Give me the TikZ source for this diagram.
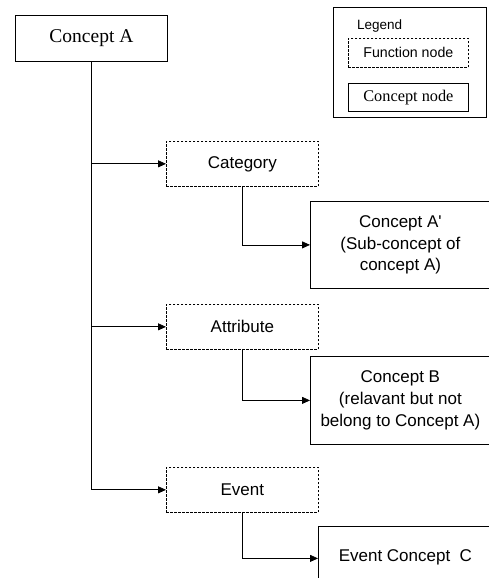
\documentclass[tikz,border=0pt]{standalone}
\usepackage{fontspec}
\setmainfont{Liberation Serif}
\setsansfont{Liberation Sans}[Ligatures=TeXOff]
\usetikzlibrary{arrows.meta}
\begin{document}
\begin{tikzpicture}[x=1pt,y=-1pt,
  concept/.style={draw,line width=0.8pt,rectangle,inner sep=0pt,anchor=north west},
  func/.style={draw,line width=0.7pt,dash pattern=on 2.5pt off 1.5pt,rectangle,inner sep=0pt,anchor=north west,
     minimum width=152pt,minimum height=45pt,font=\sffamily\fontsize{17}{21}\selectfont},
  conn/.style={line width=0.8pt,-{Triangle[length=8pt,width=7pt]}},
  stxt/.style={font=\sffamily\fontsize{17}{21.7}\selectfont,align=center,inner sep=0pt}]
\useasboundingbox (0,0) rectangle (489,578);
\clip (0,0) rectangle (489,578);
\fill[white] (0,0) rectangle (489,578);
% legend
\node[concept,minimum width=153pt,minimum height=110pt] (leg) at (333,7) {};
\node[anchor=west,inner sep=0pt,font=\sffamily\fontsize{13.5}{16}\selectfont] (legt) at (357,26) {Legend};
\node[func,minimum width=120pt,minimum height=29pt,font=\sffamily\fontsize{14.2}{17}\selectfont] (legf) at (348,38) {Function node};
\node[concept,minimum width=120pt,minimum height=28pt,font=\fontsize{16.3}{19}\selectfont] (legc) at (348,83) {Concept node};
% main
\node[concept,minimum width=152pt,minimum height=46pt,font=\fontsize{19.5}{22}\selectfont] (ca) at (15,15) {Concept A};
\node[func] (cat) at (166,141) {Category};
\node[func] (att) at (166,304) {Attribute};
\node[func] (ev) at (166,467) {Event};
\node[concept,minimum width=180pt,minimum height=87pt,stxt] (cap) at (310,201) {Concept A'\\(Sub-concept of\\concept A)};
\node[concept,minimum width=180pt,minimum height=88pt,stxt] (cb) at (310,356) {Concept B\\(relavant but not\\belong to Concept A)};
\node[concept,minimum width=174pt,minimum height=62pt,stxt] (ecc) at (318,526) {Event Concept\ \ C};
% connectors
\draw[conn] (ca.south) |- (cat.west);
\draw[conn] (ca.south) |- (att.west);
\draw[conn] (ca.south) |- (ev.west);
\draw[conn] (cat.south) |- (cap.west);
\draw[conn] (att.south) |- (cb.west);
\draw[conn] (ev.south) |- ([yshift=-1pt]ecc.west);
\end{tikzpicture}
\end{document}
